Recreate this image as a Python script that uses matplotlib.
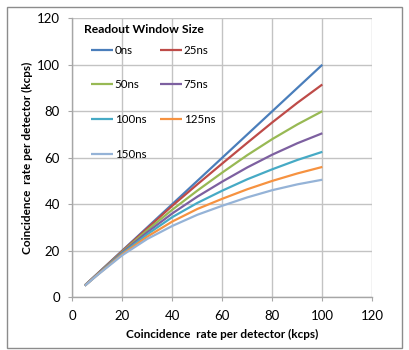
import numpy as np
import matplotlib
matplotlib.use("Agg")
import matplotlib.pyplot as plt
from matplotlib.patches import Rectangle

# data (kcps)
x_rate = [5, 10, 20, 30, 40, 50, 60, 70, 80, 90, 100]

win_labels = ["0ns", "25ns", "50ns", "75ns", "100ns", "125ns", "150ns"]
y_0ns = [5.0, 10.0, 20.0, 30.0, 40.0, 50.0, 60.0, 70.0, 80.0, 90.0, 100.0]
y_25ns = [5.0, 9.95, 19.8, 29.6, 39.3, 48.5, 57.5, 66.4, 75.2, 83.6, 91.5]
y_50ns = [4.95, 9.8, 19.5, 28.8, 37.6, 45.8, 53.6, 61.1, 68.0, 74.3, 80.0]
y_75ns = [4.93, 9.7, 19.2, 27.9, 36.0, 43.2, 49.7, 55.8, 61.3, 66.2, 70.5]
y_100ns = [4.9, 9.6, 18.8, 27.0, 34.4, 40.5, 45.8, 50.7, 55.0, 59.0, 62.5]
y_125ns = [4.88, 9.5, 18.4, 26.0, 32.5, 37.9, 42.3, 46.4, 50.0, 53.2, 56.0]
y_150ns = [4.85, 9.4, 18.0, 25.0, 30.6, 35.4, 39.3, 42.9, 46.0, 48.5, 50.5]

series = [y_0ns, y_25ns, y_50ns, y_75ns, y_100ns, y_125ns, y_150ns]
colors = ["#4A7EBB", "#BE4B48", "#98B954", "#7D60A0", "#46AAC5", "#F69240", "#95B3D7"]

plt.rcParams["font.family"] = ["Lato", "DejaVu Sans"]

fig = plt.figure(figsize=(4.09, 3.5), dpi=100)
ax = fig.add_axes([0.1768, 0.1514, 0.7335, 0.7963])

# outer chart border
fig.patches.append(Rectangle((0.016, 0.006), 0.967, 0.975, transform=fig.transFigure,
                             fill=False, edgecolor="#8c8c8c", linewidth=1.0))

lines = []
for lab, ys, c in zip(win_labels, series, colors):
    ln, = ax.plot(x_rate, ys, color=c, linewidth=1.6, label=lab, solid_capstyle="butt")
    lines.append(ln)

ax.set_xlim(0, 120)
ax.set_ylim(0, 120)
ax.set_xticks(np.arange(0, 121, 20))
ax.set_yticks(np.arange(0, 121, 20))
ax.grid(True, color="#c3c3c3", linewidth=1.0)
ax.set_axisbelow(True)
for s in ["top", "right"]:
    ax.spines[s].set_visible(False)
for s in ["left", "bottom"]:
    ax.spines[s].set_color("#a6a6a6")
    ax.spines[s].set_linewidth(1.0)
ax.tick_params(axis="both", length=3, color="#a6a6a6", labelsize=9.5, pad=6)

ax.set_xlabel("Coincidence  rate per detector (kcps)", fontsize=8.5, fontweight="bold", labelpad=5)
ax.set_ylabel("Coincidence  rate per detector (kcps)", fontsize=8.5, fontweight="bold", labelpad=3)

# legend title drawn separately so the rows can be spaced like the original
ax.text(0.039, 0.9616, "Readout Window Size", transform=ax.transAxes,
        fontsize=8.7, fontweight="bold", va="center", ha="left")

# legend fills columns first: put 0,50,100,150 in col 1 and 25,75,125 in col 2
order = [0, 2, 4, 6, 1, 3, 5]
leg = ax.legend([lines[i] for i in order], [win_labels[i] for i in order],
                ncol=2, loc="upper left", bbox_to_anchor=(0.062, 0.905),
                frameon=False, fontsize=8.3, borderpad=0, borderaxespad=0,
                labelspacing=2.05, handlelength=1.9, handletextpad=0.15,
                columnspacing=1.2)

fig.savefig("out.png", dpi=100)
